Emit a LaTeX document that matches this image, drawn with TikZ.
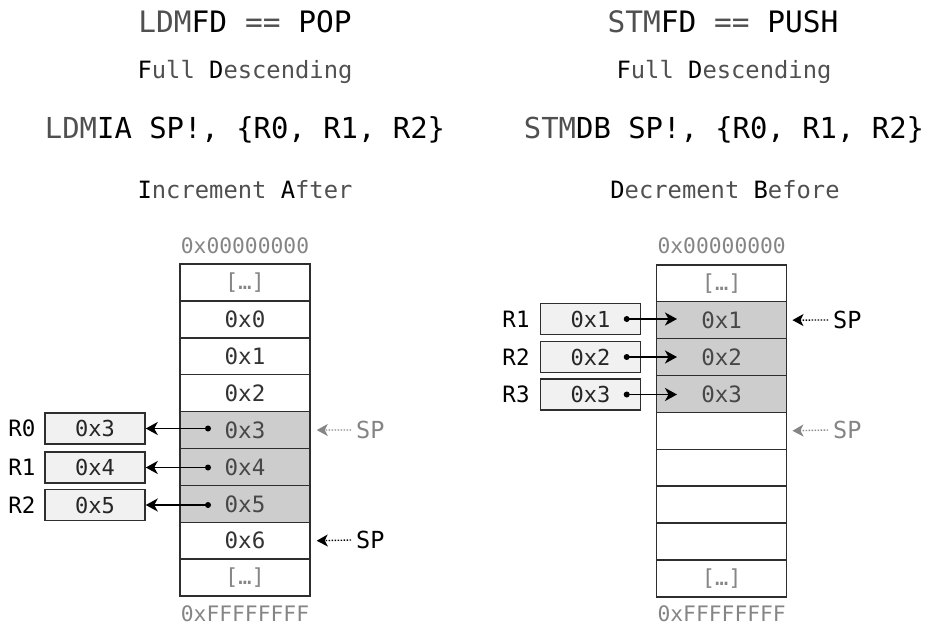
\documentclass[tikz,border=0pt]{standalone}
\usepackage{fontspec}
\newfontfamily\mono{DejaVu Sans Mono}
\usetikzlibrary{arrows.meta}
\definecolor{dim}{HTML}{505050}
\definecolor{addr}{HTML}{858585}
\definecolor{cellgray}{HTML}{CDCDCD}
\definecolor{regfill}{HTML}{F1F1F1}
\definecolor{edge}{HTML}{2E2E2E}
\newcommand{\fs}[1]{\fontsize{#1}{#1}\selectfont}
\tikzset{
  cellbox/.style={draw=edge, line width=1.5pt, minimum width=130pt, minimum height=36.9pt, inner sep=0pt, font=\mono\fs{22.5}, text=black!80, fill=white},
  usedcell/.style={fill=cellgray, text=black!72},
  dotscell/.style={text=addr, font=\mono\fs{22}},
  regbox/.style={draw=edge, line width=1.5pt, minimum width=100pt, minimum height=31pt, inner sep=0pt, fill=regfill, font=\mono\fs{22}, text=black!85},
  reglabel/.style={font=\mono\fs{22.5}, inner sep=0pt},
  addrlabel/.style={font=\mono\fs{21.3}, text=addr, inner sep=0pt},
  title/.style={font=\mono\fs{29.5}, inner sep=0pt},
  subtitle/.style={font=\mono\fs{23.8}, inner sep=0pt},
  instr/.style={font=\mono\fs{28.9}, inner sep=0pt},
  moveline/.style={line width=1.8pt, -{Stealth[length=12pt,width=13pt,inset=3.5pt]}},
  spline/.style={line width=1.4pt, dash pattern=on 1.4pt off 1.6pt, -{Stealth[length=11pt,width=12pt,inset=3pt]}},
  sptext/.style={font=\mono\fs{23.5}, inner sep=0pt, anchor=west},
  dotmark/.style={circle, fill=black, inner sep=0pt, minimum size=6pt}
}
\begin{document}
\begin{tikzpicture}[x=1pt,y=-1pt]
\useasboundingbox (0,0) rectangle (928,628);

% ---------- titles left ----------
\node[title] (tL1) at (245,22) {{\color{dim}LDM}FD {\color{dim}==} POP};
\node[subtitle] (tL2) at (245,72) {F{\color{dim}ull} D{\color{dim}escending}};
\node[instr] (tL3) at (245,130) {{\color{dim}LDM}IA SP!, \{R0, R1, R2\}};
\node[subtitle] (tL4) at (245,190) {I{\color{dim}ncrement} A{\color{dim}fter}};

% ---------- titles right ----------
\node[title] (tR1) at (723,22) {{\color{dim}STM}FD {\color{dim}==} PUSH};
\node[subtitle] (tR2) at (724,72) {F{\color{dim}ull} D{\color{dim}escending}};
\node[instr] (tR3) at (724,130) {{\color{dim}STM}DB SP!, \{R0, R1, R2\}};
\node[subtitle] (tR4) at (725,190) {D{\color{dim}ecrement} B{\color{dim}efore}};

% ---------- left memory column ----------
\node[addrlabel] (aL0) at (245,246) {0x00000000};
\node[cellbox,dotscell] (L0) at (245,282.45) {[…]};
\node[cellbox] (L1) at (245,319.35) {0x0};
\node[cellbox] (L2) at (245,356.25) {0x1};
\node[cellbox] (L3) at (245,393.15) {0x2};
\node[cellbox,usedcell] (L4) at (245,430.05) {0x3};
\node[cellbox,usedcell] (L5) at (245,466.95) {0x4};
\node[cellbox,usedcell] (L6) at (245,503.85) {0x5};
\node[cellbox] (L7) at (245,540.75) {0x6};
\node[cellbox,dotscell] (L8) at (245,577.65) {[…]};
\node[addrlabel] (aL1) at (245,614) {0xFFFFFFFF};

% registers left
\node[regbox] (rL0) at (95,428.5) {0x3};
\node[regbox] (rL1) at (95,467.5) {0x4};
\node[regbox] (rL2) at (95,505) {0x5};
\node[reglabel] (nL0) at (22,428.5) {R0};
\node[reglabel] (nL1) at (22,467.5) {R1};
\node[reglabel] (nL2) at (22,505) {R2};

\node[dotmark] (dL0) at (208,428.5) {};
\node[dotmark] (dL1) at (208,467.5) {};
\node[dotmark] (dL2) at (208,505) {};
\draw[moveline] (dL0.center) -- (rL0.east);
\draw[moveline] (dL1.center) -- (rL1.east);
\draw[moveline] (dL2.center) -- (rL2.east);

% SP markers left
\node[sptext, text=addr] (spL0) at (356,430) {SP};
\node[sptext] (spL1) at (356,540) {SP};
\coordinate (tipL0) at ([xshift=6pt]L4.east);
\coordinate (tipL1) at ([xshift=6pt]L7.east);
\draw[spline, draw=addr] ([xshift=-5pt]spL0.west) -- (tipL0);
\draw[spline, draw=black] ([xshift=-5pt]spL1.west) -- (tipL1);

% ---------- right memory column ----------
\node[addrlabel] (aR0) at (721.7,246) {0x00000000};
\node[cellbox,dotscell] (R0) at (721.7,283.2) {[…]};
\node[cellbox,usedcell] (R1) at (721.7,320.1) {0x1};
\node[cellbox,usedcell] (R2) at (721.7,357.0) {0x2};
\node[cellbox,usedcell] (R3) at (721.7,393.9) {0x3};
\node[cellbox] (R4) at (721.7,430.8) {};
\node[cellbox] (R5) at (721.7,467.7) {};
\node[cellbox] (R6) at (721.7,504.6) {};
\node[cellbox] (R7) at (721.7,541.5) {};
\node[cellbox,dotscell] (R8) at (721.7,578.4) {[…]};
\node[addrlabel] (aR1) at (721.7,614) {0xFFFFFFFF};

% registers right
\node[regbox] (rR1) at (590.5,319) {0x1};
\node[regbox] (rR2) at (590.5,357) {0x2};
\node[regbox] (rR3) at (590.5,394.5) {0x3};
\node[reglabel] (nR1) at (516,319) {R1};
\node[reglabel] (nR2) at (516,357) {R2};
\node[reglabel] (nR3) at (516,394.5) {R3};

\node[dotmark] (dR1) at (626.7,319) {};
\node[dotmark] (dR2) at (626.7,357) {};
\node[dotmark] (dR3) at (626.7,394.5) {};
\coordinate (tR1c) at (677,319);
\coordinate (tR2c) at (677,357);
\coordinate (tR3c) at (677,394.5);
\draw[moveline] (dR1.center) -- (tR1c);
\draw[moveline] (dR2.center) -- (tR2c);
\draw[moveline] (dR3.center) -- (tR3c);

% SP markers right
\node[sptext] (spR0) at (833,320) {SP};
\node[sptext, text=addr] (spR1) at (833,430) {SP};
\coordinate (tipR0) at ([xshift=5pt]R1.east);
\coordinate (tipR1) at ([xshift=5pt]R4.east);
\draw[spline, draw=black] ([xshift=-5pt]spR0.west) -- (tipR0);
\draw[spline, draw=addr] ([xshift=-5pt]spR1.west) -- (tipR1);
\end{tikzpicture}
\end{document}
